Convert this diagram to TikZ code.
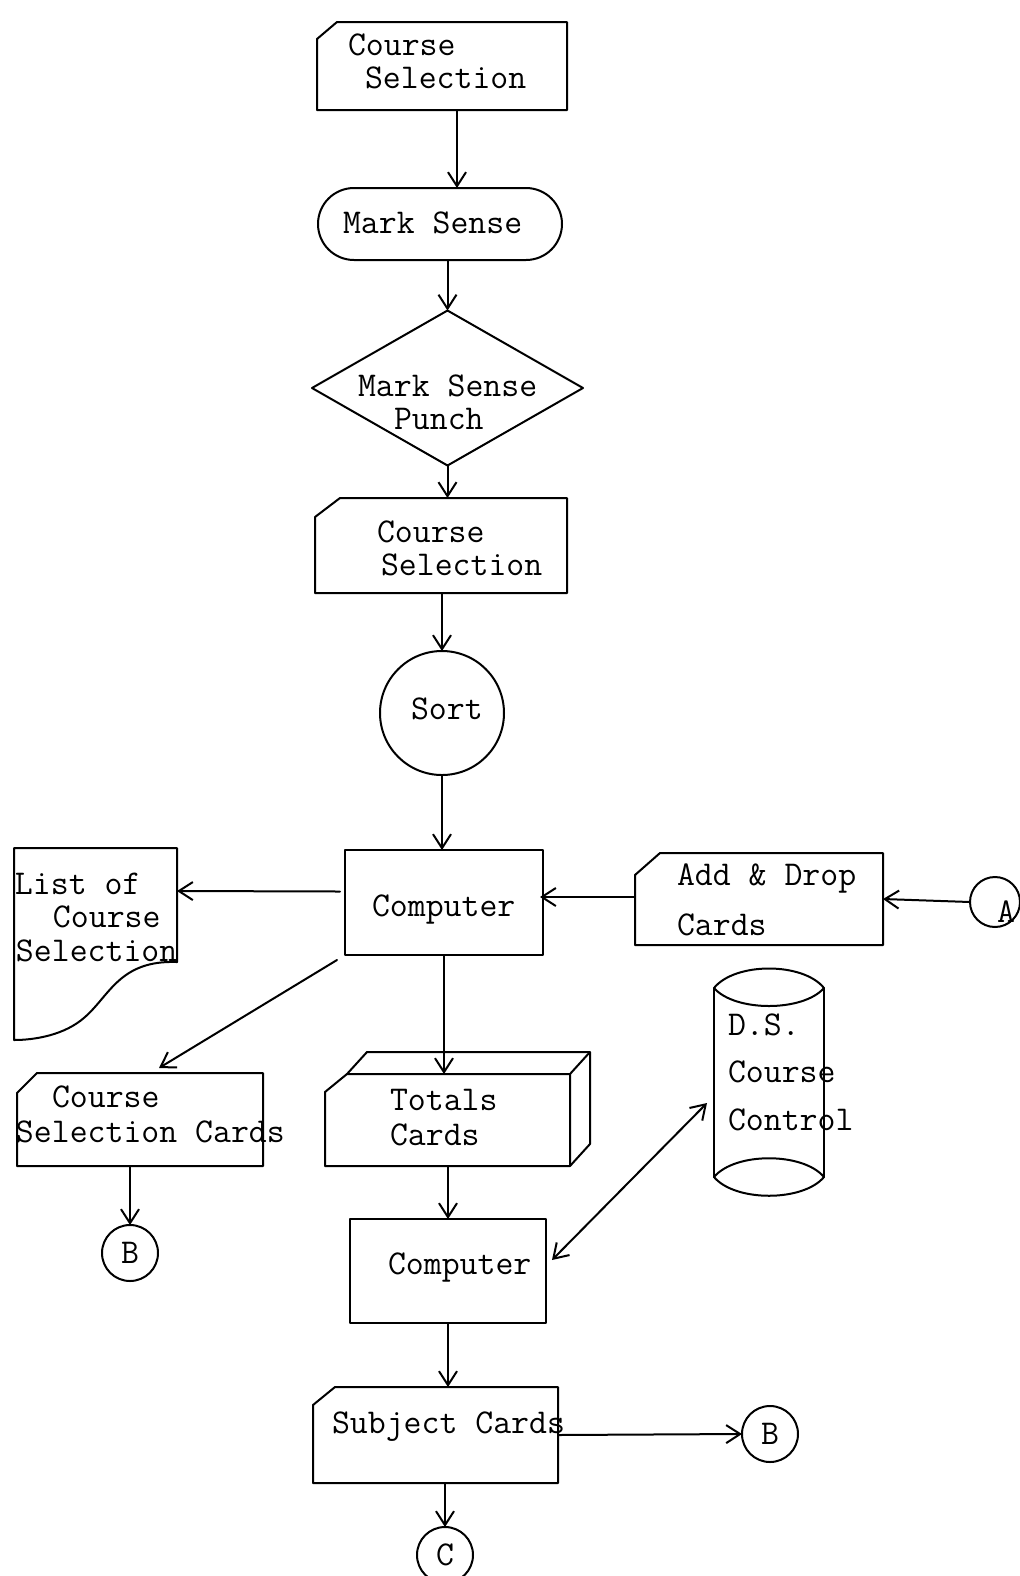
\documentclass[tikz,border=0pt]{standalone}
\usetikzlibrary{arrows.meta,calc}
\begin{document}
\begin{tikzpicture}[x=0.5pt,y=-0.5pt,
  line width=1pt, line cap=round, line join=round,
  sh/.style={draw=none,inner sep=0pt,outer sep=0pt},
  boxn/.style={draw,inner sep=0pt,outer sep=0pt},
  conn/.style={circle,draw,inner sep=0pt,outer sep=0pt,minimum size=28pt,font=\fontsize{17.4}{20}\selectfont\ttfamily},
  lbl/.style={anchor=base west,inner sep=0pt,outer sep=0pt,font=\fontsize{17.4}{20}\selectfont\ttfamily},
  arr/.style={-{Straight Barb[length=7pt,width=9pt]}},
  darr/.style={{Straight Barb[length=7pt,width=9pt]}-{Straight Barb[length=7pt,width=9pt]}}
]
\useasboundingbox (0,0) rectangle (1020,1576);
\fill[white] (0,0) rectangle (1020,1576);

\newcommand{\cardpath}[3]{%
  \draw (#1.south west) -- ($(#1.north west)+(0,#3)$) -- ($(#1.north west)+(#2,0)$) -- (#1.north east) -- (#1.south east) -- cycle;}

% Course Selection card 1
\node[sh,minimum width=125pt,minimum height=44pt] (cs1) at (442,66) {};
\cardpath{cs1}{20}{17}
\node[lbl] (t1a) at (348,55) {Course};
\node[lbl] (t1b) at (365,88) {Selection};

% Mark Sense terminal
\node[boxn,rounded corners=18pt,minimum width=122pt,minimum height=36pt] (ms) at (440,224) {};
\node[lbl] (t2) at (343,233) {Mark Sense};

% Mark Sense Punch diamond
\node[sh,minimum width=135.5pt,minimum height=77.5pt] (punch) at (447.5,388) {};
\draw (punch.north) -- (punch.east) -- (punch.south) -- (punch.west) -- cycle;
\node[lbl] (t3a) at (358,396) {Mark Sense};
\node[lbl] (t3b) at (394,429) {Punch};

% Course Selection card 2
\node[sh,minimum width=126pt,minimum height=47.5pt] (cs2) at (441,545.5) {};
\cardpath{cs2}{25}{19}
\node[lbl] (t4a) at (377,542) {Course};
\node[lbl] (t4b) at (381,575) {Selection};

% Sort
\node[circle,draw,inner sep=0pt,outer sep=0pt,minimum size=62pt] (sort) at (442,713) {};
\node[lbl] (t5) at (411,719) {Sort};

% Computer 1
\node[boxn,minimum width=99pt,minimum height=52.5pt] (comp1) at (444,902.5) {};
\node[lbl] (t6) at (372,916) {Computer};

% List of course selection (document)
\node[sh,minimum width=81.5pt,minimum height=96pt] (list) at (95.5,944) {};
\draw (list.south west) -- (list.north west) -- (list.north east) -- (177,962)
  .. controls (120,960) and (110,995) .. (85,1017)
  .. controls (65,1035) and (35,1040) .. (list.south west);
\node[lbl] (t7a) at (15,894) {List of};
\node[lbl] (t7b) at (53,927) {Course};
\node[lbl] (t7c) at (16,961) {Selection};

% Add & Drop cards
\node[sh,minimum width=124pt,minimum height=46pt] (ad) at (759,899) {};
\cardpath{ad}{25}{22}
\node[lbl] (t8a) at (677,885) {Add \& Drop};
\node[lbl] (t8b) at (677,935) {Cards};

% Connector A
\node[circle,draw,inner sep=0pt,outer sep=0pt,minimum size=25pt] (circA) at (995,902) {};
\node[lbl] (t9) at (997,922) {A};

% Course Selection Cards
\node[sh,minimum width=123pt,minimum height=46.5pt] (csc) at (140,1119.5) {};
\cardpath{csc}{20}{20}
\node[lbl] (t10a) at (52,1107) {Course};
\node[lbl] (t10b) at (16,1142) {Selection Cards};

% Connector B (left)
\node[conn] (circB1) at (130,1253) {B};

% Totals Cards (3D)
\node[sh,minimum width=122.5pt,minimum height=46pt] (tot) at (447.5,1120) {};
\cardpath{tot}{22}{18}
\draw ($(tot.north west)+(22,0)$) -- ++(20,-22) -- ($(tot.north east)+(20,-22)$) -- ++(0,92) -- (tot.south east);
\draw (tot.north east) -- ++(20,-22);
\node[lbl] (t11a) at (390,1110) {Totals};
\node[lbl] (t11b) at (390,1145) {Cards};

% D.S. Course Control (drum)
\node[sh,minimum width=55pt,minimum height=116pt] (cyl) at (769,1084) {};
\draw (714,988) .. controls (735,962) and (803,962) .. (824,988);
\draw (714,988) .. controls (735,1012) and (803,1012) .. (824,988);
\draw (714,988) -- (714,1177);
\draw (824,988) -- (824,1177);
\draw (714,1177) .. controls (735,1152) and (803,1152) .. (824,1177);
\draw (714,1177) .. controls (735,1202) and (803,1202) .. (824,1177);
\node[lbl] (t12a) at (728,1035) {D.S.};
\node[lbl] (t12b) at (728,1082) {Course};
\node[lbl] (t12c) at (728,1130) {Control};

% Computer 2
\node[boxn,minimum width=98pt,minimum height=52pt] (comp2) at (448,1271) {};
\node[lbl] (t13) at (388,1274) {Computer};

% Subject Cards
\node[sh,minimum width=122.5pt,minimum height=48pt] (subj) at (435.5,1435) {};
\cardpath{subj}{22}{18}
\node[lbl] (t14) at (332,1433) {Subject Cards};

% Connectors B (right) and C
\node[conn] (circB2) at (770,1434) {B};
\node[conn] (circC) at (445,1555) {C};

% ---- arrows ----
\draw[arr] ([xshift=7.5pt]cs1.south) -- ([xshift=7.5pt]cs1.south |- ms.north);
\draw[arr] (punch.north |- ms.south) -- (punch.north);
\draw[arr] (punch.south) -- (punch.south |- cs2.north);
\draw[arr] (sort.north |- cs2.south) -- (sort.north);
\draw[arr] (sort.south) -- (sort.south |- comp1.north);
\draw[arr] ($(comp1.west)+(-5,-11)$) -- ($(list.north east)+(0,43)$);
\draw[arr] ($(ad.west)+(0,-2)$) -- ($(comp1.east)+(-3,-5.5)$);
\draw[arr] (circA.west) -- (ad.east);
\draw[arr] ($(comp1.south west)+(-8,5)$) -- ($(csc.north)+(19,-5)$);
\draw[arr] (csc.south -| circB1.north) -- (circB1.north);
\draw[arr] (comp1.south) -- (comp1.south |- tot.north);
\draw[arr] (comp2.north |- tot.south) -- (comp2.north);
\draw[darr] ($(comp2.east)+(6,-11)$) -- ($(cyl.west)+(-7,19)$);
\draw[arr] (comp2.south) -- (comp2.south |- subj.north);
\draw[arr] (subj.east) -- (circB2.west);
\draw[arr] (circC.north |- subj.south) -- (circC.north);
\end{tikzpicture}
\end{document}
